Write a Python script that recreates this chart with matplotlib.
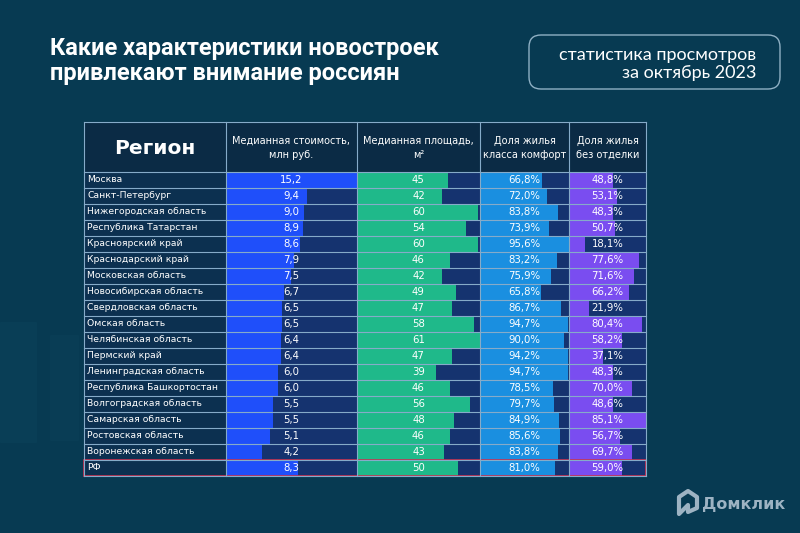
import matplotlib.pyplot as plt
from matplotlib.patches import Rectangle, FancyBboxPatch, Polygon
import matplotlib.transforms as mtransforms

# data
regions = ["Москва", "Санкт-Петербург", "Нижегородская область", "Республика Татарстан",
           "Красноярский край", "Краснодарский край", "Московская область",
           "Новосибирская область", "Свердловская область", "Омская область",
           "Челябинская область", "Пермский край", "Ленинградская область",
           "Республика Башкортостан", "Волгоградская область", "Самарская область",
           "Ростовская область", "Воронежская область", "РФ"]
price = [15.2, 9.4, 9.0, 8.9, 8.6, 7.9, 7.5, 6.7, 6.5, 6.5, 6.4, 6.4, 6.0, 6.0, 5.5, 5.5, 5.1, 4.2, 8.3]
area = [45, 42, 60, 54, 60, 46, 42, 49, 47, 58, 61, 47, 39, 46, 56, 48, 46, 43, 50]
comfort = [66.8, 72.0, 83.8, 73.9, 95.6, 83.2, 75.9, 65.8, 86.7, 94.7, 90.0, 94.2, 94.7,
           78.5, 79.7, 84.9, 85.6, 83.8, 81.0]
no_finish = [48.8, 53.1, 48.3, 50.7, 18.1, 77.6, 71.6, 66.2, 21.9, 80.4, 58.2, 37.1, 48.3,
             70.0, 48.6, 85.1, 56.7, 69.7, 59.0]
headers = ["Медианная стоимость,\nмлн руб.", "Медианная площадь,\nм²",
           "Доля жилья\nкласса комфорт", "Доля жилья\nбез отделки"]

W, H = 800, 533
bg = "#073a52"
navy = "#15336f"
cell = "#0c3050"
head = "#0b2b45"
grid = "#86abc9"

plt.rcParams['font.family'] = ['DejaVu Sans']
fig = plt.figure(figsize=(8, 5.33), dpi=100, facecolor=bg)
base = fig.add_axes([0, 0, 1, 1])
base.set_xlim(0, W)
base.set_ylim(H, 0)
base.axis('off')

# faint background shapes
base.add_patch(Rectangle((0, 322), 36, 120, color="#093e56", zorder=0))
base.add_patch(Rectangle((50, 335), 28, 105, color="#093d55", zorder=0))

# title + period box
base.text(50, 61, "Какие характеристики новостроек\nпривлекают внимание россиян",
          color="white", fontsize=17, fontweight="bold", family="Roboto",
          va="center", ha="left", linespacing=1.12)
base.add_patch(FancyBboxPatch((529, 35), 251, 54, boxstyle="round,pad=0,rounding_size=12",
                              fill=False, ec="#8fb0c4", lw=1))
base.text(756, 64, "статистика просмотров\nза октябрь 2023", color="white", fontsize=13,
          family="Lato", ha="right", va="center", linespacing=1.15)

# table geometry (pixels)
top, hbot, bot = 122, 172, 476
cols = [84, 226, 357, 480, 569, 646]
n = len(regions)
rh = (bot - hbot) / n

base.add_patch(Rectangle((cols[0], top), cols[-1] - cols[0], hbot - top, color=head, zorder=1))
base.add_patch(Rectangle((cols[0], hbot), cols[1] - cols[0], bot - hbot, color=cell, zorder=1))
base.text((cols[0] + cols[1]) / 2, 148, "Регион", color="white", fontsize=14.5,
          fontweight="bold", ha="center", va="center", zorder=3)
for i, h in enumerate(headers):
    base.text((cols[i + 1] + cols[i + 2]) / 2, 148, h, color="white", fontsize=7,
              ha="center", va="center", linespacing=1.5, zorder=3)
for i, r in enumerate(regions):
    base.text(cols[0] + 3, hbot + rh * (i + 0.5), r, color="white", fontsize=6.7,
              ha="left", va="center", zorder=3)

series = [(price, "#1f4ffa", lambda v: f"{v:.1f}".replace(".", ",")),
          (area, "#1fb98a", lambda v: f"{v:d}"),
          (comfort, "#1a8fe0", lambda v: f"{v:.1f}%".replace(".", ",")),
          (no_finish, "#7a4df0", lambda v: f"{v:.1f}%".replace(".", ","))]
for i, (vals, c, fmt) in enumerate(series):
    x0, x1 = cols[i + 1], cols[i + 2]
    ax = fig.add_axes([x0 / W, 1 - bot / H, (x1 - x0) / W, (bot - hbot) / H])
    ax.set_facecolor(navy)
    ax.barh(range(n), vals, height=1.0, color=c, zorder=2)
    ax.set_xlim(0, max(vals))
    ax.set_ylim(n - 0.5, -0.5)
    ax.set_xticks([])
    ax.set_yticks([])
    for s in ax.spines.values():
        s.set_visible(False)
    tr = mtransforms.blended_transform_factory(ax.transAxes, ax.transData)
    for j, v in enumerate(vals):
        ax.text(0.5, j, fmt(v), transform=tr, color="white", fontsize=7.3,
                ha="center", va="center", zorder=3)

# grid lines on top
top_ax = fig.add_axes([0, 0, 1, 1], facecolor="none")
top_ax.set_xlim(0, W)
top_ax.set_ylim(H, 0)
top_ax.axis('off')
for k in range(n + 1):
    y = hbot + rh * k
    top_ax.plot([cols[0], cols[-1]], [y, y], color=grid, lw=0.8)
top_ax.plot([cols[0], cols[-1]], [top, top], color=grid, lw=0.8)
for x in cols:
    top_ax.plot([x, x], [top, bot], color=grid, lw=0.8)
top_ax.add_patch(Rectangle((cols[0], bot - rh), cols[-1] - cols[0], rh, fill=False,
                           ec="#c8304e", lw=1.2))

# logo
top_ax.add_patch(Polygon([(679, 514), (679, 497), (688, 491), (697, 497), (697, 508),
                          (688, 512), (688, 505)], closed=True, fill=False,
                         ec="#9db3c3", lw=3, joinstyle="round"))
top_ax.text(702, 505, "Домклик", color="#9db3c3", fontsize=11.5, fontweight="bold",
            ha="left", va="center")

fig.savefig("out.png", dpi=100, facecolor=bg)
